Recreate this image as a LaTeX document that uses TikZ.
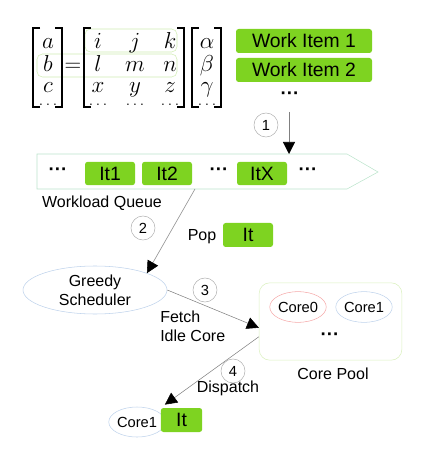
\documentclass[tikz,border=0pt]{standalone}
\usepackage{amsmath,amssymb}
\usepackage{fontspec}
\setsansfont{Liberation Sans}
\renewcommand{\familydefault}{\sfdefault}
\usepackage{tikz}
\usetikzlibrary{arrows.meta,calc,positioning,shapes.geometric}

\definecolor{itemgreen}{RGB}{126,211,33}
\definecolor{rowgreen}{RGB}{208,236,178}
\definecolor{queueline}{RGB}{188,228,204}
\definecolor{poolline}{RGB}{218,240,190}
\definecolor{ovalblue}{RGB}{190,210,235}
\definecolor{ovalred}{RGB}{245,168,168}

\begin{document}
\begin{tikzpicture}[x=0.75pt,y=-0.75pt,
    item/.style={fill=itemgreen, rounded corners=2pt, inner sep=0pt, minimum height=18pt, font=\fontsize{14.5}{16}\selectfont},
    stepnum/.style={circle, draw=gray!60, minimum size=18pt, inner sep=0pt, font=\fontsize{11}{12}\selectfont},
    flow/.style={draw=gray, -{Triangle[color=black,length=9pt,width=9pt]}},
    txt/.style={inner sep=0pt, font=\fontsize{12}{14}\selectfont},
    oval/.style={ellipse, inner sep=0pt, font=\fontsize{11}{13}\selectfont},
    entry/.style={anchor=base, inner sep=0pt, font=\fontsize{19}{22}\selectfont},
    rowdots/.style={anchor=base, inner sep=0pt, font=\fontsize{13}{14}\selectfont},
    bracket/.style={line width=1.5pt},
    dotsnode/.style={inner sep=0pt, font=\bfseries\fontsize{14}{16}\selectfont}]
    \useasboundingbox (0,0) rectangle (425,473);
    % Matrix-Vektor-Produkt
    \draw[rowgreen, rounded corners=4pt] (85,29) rectangle (177,52);
    \draw[rowgreen, rounded corners=4pt] (37,54) rectangle (177,77);
    \foreach \l/\r in {33/62,84/184,192/221} {
      \draw[bracket] (\l+7,28) -- (\l,28) -- (\l,107) -- (\l+7,107);
      \draw[bracket] (\r-7,28) -- (\r,28) -- (\r,107) -- (\r-7,107);
    }
    \node[entry] (va) at (48,49) {$a$};
    \node[entry] (vb) at (48,72) {$b$};
    \node[entry] (vc) at (48,93) {$c$};
    \node[rowdots] (vd) at (48,106) {$\ldots$};
    \node[entry] (eq) at (73,72) {$=$};
    \foreach \x/\ea/\eb/\ec [count=\i] in {98/i/l/x, 135/j/m/y, 170/k/n/z} {
      \node[entry] (m1\i) at (\x,49) {$\ea$};
      \node[entry] (m2\i) at (\x,72) {$\eb$};
      \node[entry] (m3\i) at (\x,93) {$\ec$};
      \node[rowdots] (m4\i) at (\x,106) {$\ldots$};
    }
    \node[entry] (wa) at (207,49) {$\alpha$};
    \node[entry] (wb) at (207,72) {$\beta$};
    \node[entry] (wc) at (207,93) {$\gamma$};
    \node[rowdots] (wd) at (207,106) {$\ldots$};
    % Arbeitspakete
    \node[item, minimum width=102pt] (wi1) at (304,41) {Work Item 1};
    \node[item, minimum width=102pt] (wi2) at (304,70) {Work Item 2};
    \node[dotsnode] (widots) at (290,96) {···};
    % Warteschlange
    \coordinate (qin) at (289,112);
    \coordinate (qtop) at (289,154);
    \coordinate (qout) at (195,189);
    \draw[queueline] (37,154) -- (347,154) -- (378,172) -- (347,189) -- (37,189) -- cycle;
    \node[dotsnode] (qd1) at (58,172) {···};
    \node[item, minimum width=37.5pt, minimum height=17.5pt] (it1) at (110,173.5) {It1};
    \node[item, minimum width=37.5pt, minimum height=17.5pt] (it2) at (167,173.5) {It2};
    \node[dotsnode] (qd2) at (219,172) {···};
    \node[item, minimum width=37.5pt, minimum height=17.5pt] (itx) at (262,173.5) {ItX};
    \node[dotsnode] (qd3) at (308,172) {···};
    \node[txt] (qlabel) at (102,203) {Workload Queue};
    \draw[flow] (qin) -- (qtop);
    \node[stepnum] (s1) at (266,125) {1};
    % Scheduler
    \node[oval, draw=ovalblue, minimum width=108pt, minimum height=36pt, align=center, font=\fontsize{12}{14}\selectfont] (sched) at (95,290) {Greedy\\Scheduler};
    \draw[flow] (qout) -- (sched.18);
    \node[stepnum] (s2) at (143,228) {2};
    \node[txt] (pop) at (202,237) {Pop};
    \node[item, minimum width=37.5pt] (popit) at (248,235) {It};
    % Kern-Pool
    \node[draw=poolline, rounded corners=8pt, minimum width=107pt, minimum height=58pt] (pool) at (330.5,321.5) {};
    \node[oval, draw=ovalred, minimum width=40pt, minimum height=23pt] (core0) at (298,307) {Core0};
    \node[oval, draw=ovalblue, minimum width=41pt, minimum height=23pt] (core1) at (364,307) {Core1};
    \node[dotsnode] (pdots) at (330,337) {···};
    \node[txt] (plabel) at (333,374) {Core Pool};
    \draw[flow] (sched.east) -- (pool.185);
    \node[stepnum] (s3) at (205,290) {3};
    \node[txt, align=left, anchor=west] (fetch) at (160,326) {Fetch\\Idle Core};
    % Zuteilung
    \node[oval, draw=ovalblue, minimum width=37.5pt, minimum height=22.5pt] (bcore) at (137,422) {Core1};
    \node[item, minimum width=31pt] (bit) at (181.5,420) {It};
    \draw[flow, shorten >=4pt] (pool.192) -- (bit.north west);
    \node[stepnum] (s4) at (233,371) {4};
    \node[txt] (disp) at (228,388) {Dispatch};
\end{tikzpicture}
\end{document}
